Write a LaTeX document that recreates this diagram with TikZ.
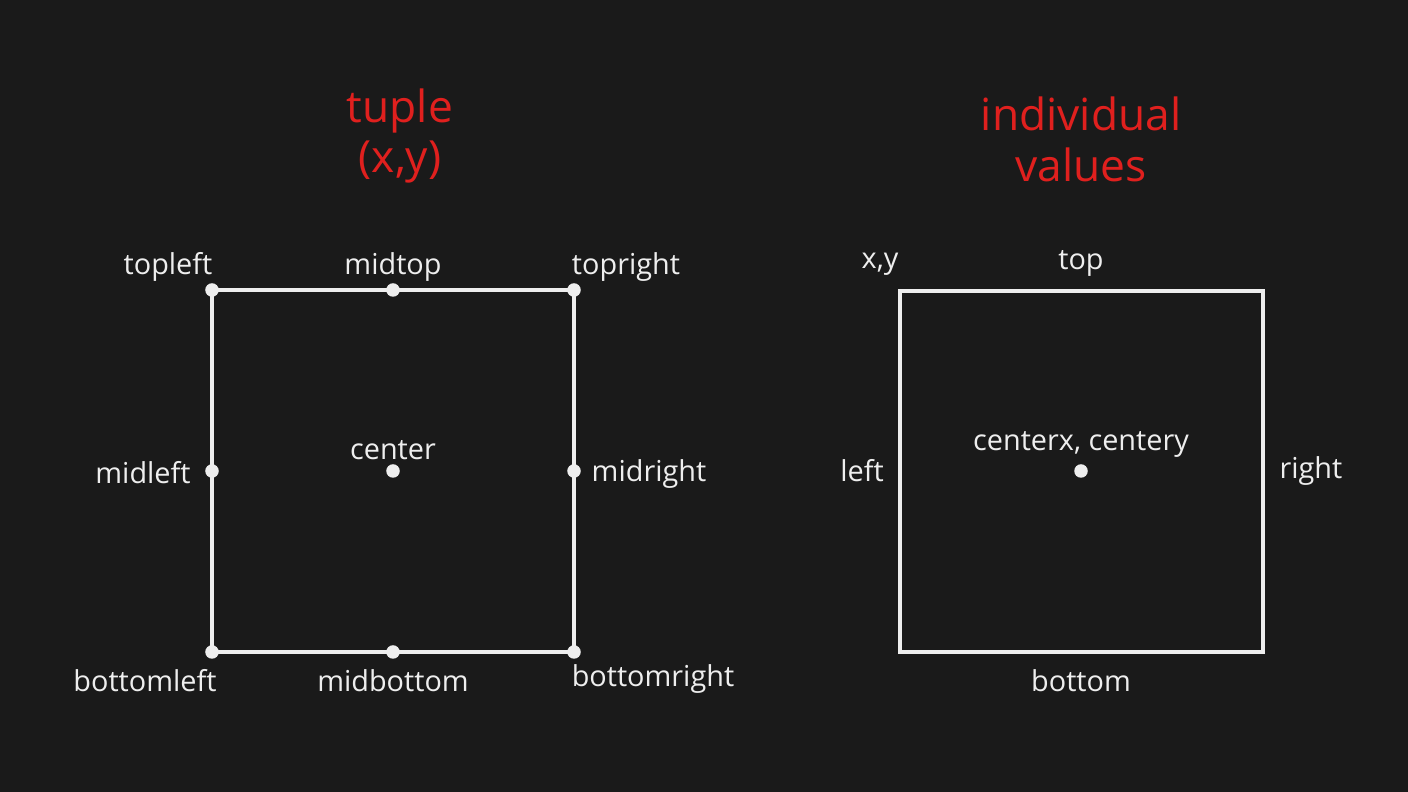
\documentclass[tikz,border=0pt]{standalone}
\usepackage{fontspec}
\setmainfont{Open Sans}
\usetikzlibrary{positioning}
\definecolor{bgdark}{HTML}{1A1A1A}
\definecolor{titlered}{HTML}{E0201E}
\definecolor{labelwhite}{HTML}{EEEEEE}
\tikzset{
    dot/.style={circle, fill=labelwhite, inner sep=0pt, minimum size=1.35mm},
    boxline/.style={draw=labelwhite, line width=1pt},
    lbl/.style={text=labelwhite, inner sep=0pt, font=\fontsize{8.2}{10}\selectfont},
    heading/.style={text=titlered, align=center, inner sep=0pt,
        font=\fontsize{12.6}{14.5}\selectfont}
}
\newcommand{\pin}[3] {
    \node[dot] (#1) at ({#2}, {#3}) {};
}
\begin{document}
\begin{tikzpicture}[x=0.01cm, y=-0.01cm]
    \fill[bgdark] (0,0) rectangle (1408,792);
    \useasboundingbox (0,0) rectangle (1408,792);

    % left: tuple (x,y)
    \node[heading] (tuple) at (400,136) {tuple\\(x,y)};
    \pin{tl}{212}{290}
    \pin{mt}{393}{290}
    \pin{tr}{574}{290}
    \pin{ml}{212}{471}
    \pin{ce}{393}{471}
    \pin{mr}{574}{471}
    \pin{bl}{212}{652}
    \pin{mb}{393}{652}
    \pin{br}{574}{652}
    \draw[boxline] (tl.center) -- (mt.center) -- (tr.center) -- (mr.center)
        -- (br.center) -- (mb.center) -- (bl.center) -- (ml.center) -- cycle;
    \node[lbl] (tl-lbl) at (168,267) {topleft};
    \node[lbl] (mt-lbl) at (393,267) {midtop};
    \node[lbl] (tr-lbl) at (626,267) {topright};
    \node[lbl] (ml-lbl) at (143,473) {midleft};
    \node[lbl] (ce-lbl) at (393,450) {center};
    \node[lbl] (mr-lbl) at (649,474) {midright};
    \node[lbl] (bl-lbl) at (145,681) {bottomleft};
    \node[lbl] (mb-lbl) at (393,681) {midbottom};
    \node[lbl] (br-lbl) at (653,679) {bottomright};

    % right: individual values
    \node[heading] (indiv) at (1081,139) {individual\\values};
    \coordinate (xy) at (900,291);
    \coordinate (ne) at (1263,291);
    \coordinate (se) at (1263,652);
    \coordinate (sw) at (900,652);
    \draw[boxline] (xy) -- (ne) -- (se) -- (sw) -- cycle;
    \pin{cxy}{1081}{471}
    \node[lbl] (xy-lbl) at (880,264) {x,y};
    \node[lbl] (top-lbl) at (1081,263) {top};
    \node[lbl] (left-lbl) at (862,471) {left};
    \node[lbl] (cxy-lbl) at (1081,444) {centerx, centery};
    \node[lbl] (right-lbl) at (1311,471) {right};
    \node[lbl] (bottom-lbl) at (1081,681) {bottom};
\end{tikzpicture}
\end{document}
